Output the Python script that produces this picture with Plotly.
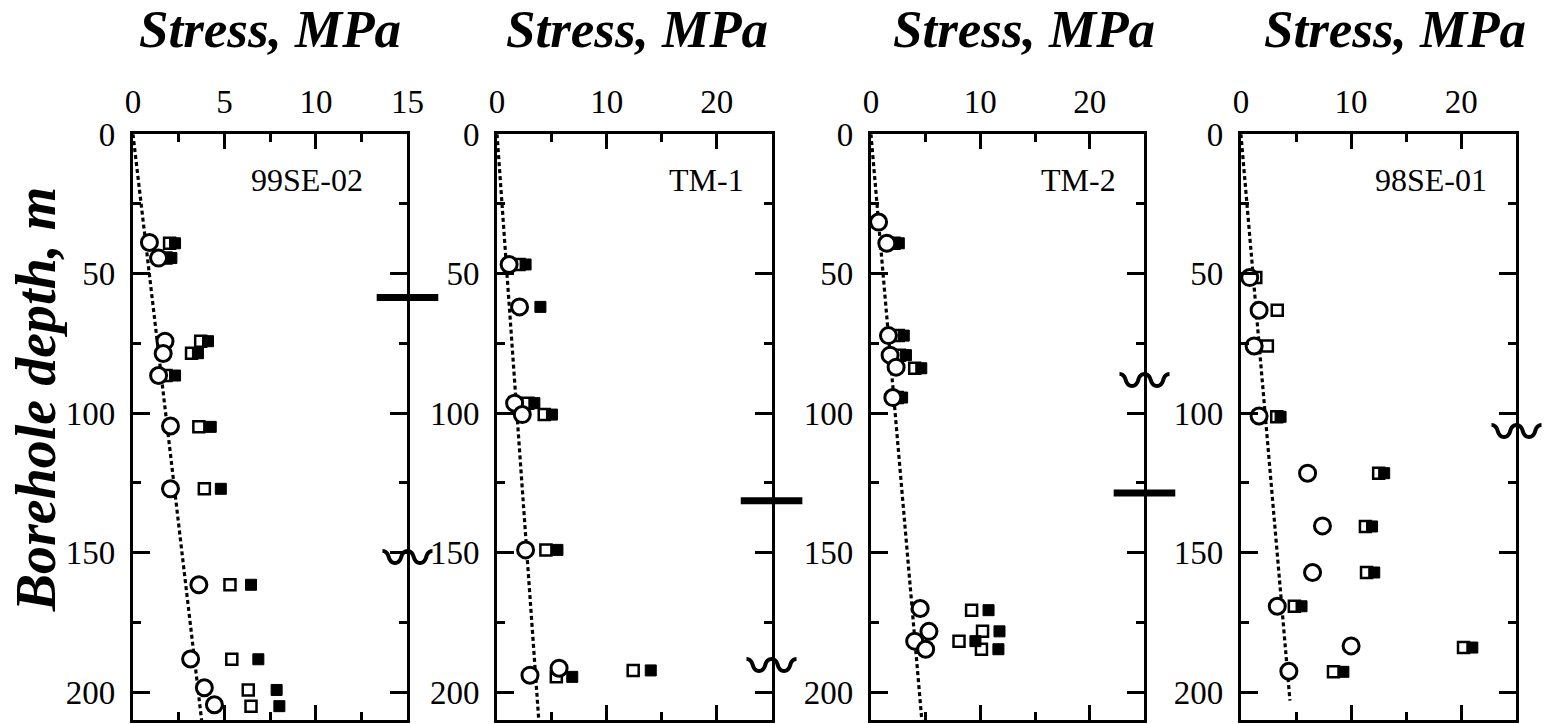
import plotly.graph_objects as go

W, H = 1559, 724

# ---------------- data (depth in m, stress in MPa) ----------------
panel_names = ["99SE-02", "TM-1", "TM-2", "98SE-01"]
x_max = [15, 25, 25, 25]
x_dtick = [5, 10, 10, 10]
x_minor = [2.5, 5, 5, 5]
y_max = 210

# Panel 1: 99SE-02
p1_circ_depth = [38.8, 44.4, 74.2, 78.6, 86.5, 104.6, 127.1, 161.5, 188.1, 198.4, 204.5]
p1_circ_stress = [0.9, 1.4, 1.75, 1.65, 1.4, 2.05, 2.05, 3.6, 3.15, 3.9, 4.45]
p1_open_depth = [39.1, 44.4, 74.2, 78.5, 86.5, 104.9, 127.1, 161.5, 188.2, 199.2, 205.0]
p1_open_stress = [2.0, 1.8, 3.7, 3.2, 1.8, 3.6, 3.9, 5.3, 5.4, 6.3, 6.45]
p1_fill_depth = [39.1, 44.4, 74.2, 78.5, 86.5, 104.9, 127.1, 161.5, 188.2, 199.2, 205.0]
p1_fill_stress = [2.3, 2.1, 4.1, 3.55, 2.3, 4.25, 4.8, 6.45, 6.85, 7.85, 8.0]
p1_trend_depth = [0, 210]
p1_trend_stress = [0, 3.75]

# Panel 2: TM-1
p2_circ_depth = [46.7, 61.9, 96.4, 100.5, 149.0, 191.4, 193.9]
p2_circ_stress = [1.1, 2.05, 1.6, 2.3, 2.6, 5.65, 3.0]
p2_open_depth = [46.7, 96.4, 100.5, 149.0, 194.5, 192.2]
p2_open_stress = [2.0, 2.8, 4.3, 4.45, 5.4, 12.4]
p2_fill_depth = [46.7, 61.9, 96.4, 100.5, 149.0, 194.5, 192.2]
p2_fill_stress = [2.6, 3.95, 3.4, 5.0, 5.5, 6.85, 14.0]
p2_trend_depth = [0, 210]
p2_trend_stress = [0, 3.8]

# Panel 3: TM-2
p3_circ_depth = [31.5, 39.1, 72.2, 79.2, 83.5, 94.4, 170.0, 178.2, 181.7, 184.6]
p3_circ_stress = [0.7, 1.45, 1.6, 1.75, 2.3, 2.0, 4.5, 5.3, 4.0, 5.0]
p3_open_depth = [39.1, 72.2, 79.2, 83.9, 94.4, 170.6, 178.2, 181.7, 184.6]
p3_open_stress = [2.1, 2.5, 2.6, 4.0, 2.4, 9.2, 10.2, 8.05, 10.1]
p3_fill_depth = [39.1, 72.2, 79.2, 83.9, 94.4, 170.6, 178.2, 181.7, 184.6]
p3_fill_stress = [2.55, 3.0, 3.2, 4.6, 2.85, 10.75, 11.75, 9.55, 11.65]
p3_trend_depth = [0, 210]
p3_trend_stress = [0, 4.65]

# Panel 4: 98SE-01
p4_circ_depth = [51.4, 63.1, 75.9, 101.0, 121.5, 140.4, 157.1, 169.2, 183.4, 192.5]
p4_circ_stress = [0.8, 1.65, 1.2, 1.65, 6.05, 7.4, 6.5, 3.3, 10.0, 4.35]
p4_open_depth = [51.4, 63.1, 75.9, 101.3, 121.5, 140.6, 157.1, 169.2, 184.0, 192.7]
p4_open_stress = [1.35, 3.3, 2.4, 3.25, 12.5, 11.3, 11.4, 4.85, 20.2, 8.4]
p4_fill_depth = [101.3, 121.5, 140.6, 157.1, 169.2, 184.0, 192.7]
p4_fill_stress = [3.6, 13.0, 11.9, 12.1, 5.5, 21.0, 9.3]
p4_trend_depth = [0, 203]
p4_trend_stress = [0, 4.45]

# right-edge markers (depth, m): thick bar and wavy break
bar_depths = [58.5, 131.4, 128.6, None]
wave_depths = [154.0, 192.5, 90.4, 108.7]

circ_depth = [p1_circ_depth, p2_circ_depth, p3_circ_depth, p4_circ_depth]
circ_stress = [p1_circ_stress, p2_circ_stress, p3_circ_stress, p4_circ_stress]
open_depth = [p1_open_depth, p2_open_depth, p3_open_depth, p4_open_depth]
open_stress = [p1_open_stress, p2_open_stress, p3_open_stress, p4_open_stress]
fill_depth = [p1_fill_depth, p2_fill_depth, p3_fill_depth, p4_fill_depth]
fill_stress = [p1_fill_stress, p2_fill_stress, p3_fill_stress, p4_fill_stress]
trend_depth = [p1_trend_depth, p2_trend_depth, p3_trend_depth, p4_trend_depth]
trend_stress = [p1_trend_stress, p2_trend_stress, p3_trend_stress, p4_trend_stress]

# ---------------- layout geometry ----------------
px_x = [(127, 406), (497, 776), (877, 1155), (1253, 1533)]
px_y = (120, 720)
title_xfrac = [0.5, 0.51, 0.56, 0.56]
label_inset = [43, 26, 27, 28]

SERIF = "Liberation Serif, Times New Roman, serif"
tick_font = dict(family=SERIF, size=33, color="black")

fig = go.Figure()
layout = dict(
    width=W, height=H,
    margin=dict(l=0, r=0, t=0, b=0),
    paper_bgcolor="white", plot_bgcolor="white",
    showlegend=False,
    annotations=[],
)

for i in range(4):
    n = "" if i == 0 else str(i + 1)
    xa, ya = "x" + n, "y" + n
    x0, x1 = px_x[i]
    layout["xaxis" + n] = dict(
        domain=[x0 / W, x1 / W], anchor=ya, side="top",
        range=[0, x_max[i]], dtick=x_dtick[i], tick0=0,
        ticks="inside", ticklen=15, tickwidth=3, tickcolor="black",
        minor=dict(dtick=x_minor[i], tick0=0, ticks="inside", ticklen=8,
                   tickwidth=2.5, tickcolor="black"),
        showline=True, linewidth=3, linecolor="black", mirror="ticks",
        showgrid=False, zeroline=False, tickfont=tick_font,
        ticklabelstandoff=5,
    )
    layout["yaxis" + n] = dict(
        domain=[(H - px_y[1]) / H, (H - px_y[0]) / H], anchor=xa,
        range=[y_max, 0], dtick=50, tick0=0,
        ticks="inside", ticklen=17, tickwidth=3, tickcolor="black",
        minor=dict(dtick=25, tick0=0, ticks="inside", ticklen=8,
                   tickwidth=2.5, tickcolor="black"),
        showline=True, linewidth=3, linecolor="black", mirror="ticks",
        showgrid=False, zeroline=False, tickfont=tick_font,
        ticklabelstandoff=8,
    )

    # trend line
    fig.add_trace(go.Scatter(
        x=trend_stress[i], y=trend_depth[i], xaxis=xa, yaxis=ya,
        mode="lines", line=dict(color="black", width=3.2, dash="4px,3px"),
        hoverinfo="skip"))
    # open squares
    fig.add_trace(go.Scatter(
        x=open_stress[i], y=open_depth[i], xaxis=xa, yaxis=ya, mode="markers",
        marker=dict(symbol="square", size=11, color="white",
                    line=dict(color="black", width=2.5))))
    # filled squares
    fig.add_trace(go.Scatter(
        x=fill_stress[i], y=fill_depth[i], xaxis=xa, yaxis=ya, mode="markers",
        marker=dict(symbol="square", size=11, color="black",
                    line=dict(color="black", width=1))))
    # circles
    fig.add_trace(go.Scatter(
        x=circ_stress[i], y=circ_depth[i], xaxis=xa, yaxis=ya, mode="markers",
        marker=dict(symbol="circle", size=16, color="white",
                    line=dict(color="black", width=3))))
    # thick bar on the right border
    if bar_depths[i] is not None:
        fig.add_trace(go.Scatter(
            x=[x_max[i]], y=[bar_depths[i]], xaxis=xa, yaxis=ya, mode="markers",
            cliponaxis=False,
            marker=dict(symbol="line-ew", size=44,
                        line=dict(color="black", width=7))))
    # wavy break on the right border
    if wave_depths[i] is not None:
        fig.add_trace(go.Scatter(
            x=[x_max[i]], y=[wave_depths[i]], xaxis=xa, yaxis=ya, mode="text",
            cliponaxis=False, text=["\u3030"], textposition="middle center",
            textfont=dict(family="Noto Sans CJK JP", size=50, color="black",
                          weight="bold")))

    # panel label
    width_px = x1 - x0
    layout["annotations"].append(dict(
        text=panel_names[i], xref=xa + " domain", yref=ya + " domain",
        x=1 - label_inset[i] / width_px, y=1 - 47 / 600,
        xanchor="right", yanchor="middle", showarrow=False,
        font=dict(family=SERIF, size=32, color="black")))
    # column title
    layout["annotations"].append(dict(
        text="Stress, MPa", xref=xa + " domain", yref="paper",
        x=title_xfrac[i], y=1 - 12 / H, xanchor="center", yanchor="middle",
        showarrow=False,
        font=dict(family=SERIF, size=53, color="black", weight="bold",
                  style="italic")))

# y-axis title
layout["annotations"].append(dict(
    text="Borehole depth, m", xref="paper", yref="paper",
    x=28 / W, y=1 - 392 / H, xanchor="center", yanchor="middle",
    textangle=-90, showarrow=False,
    font=dict(family=SERIF, size=56, color="black", weight="bold",
              style="italic")))

fig.update_layout(**layout)
fig.write_html("out.html")
